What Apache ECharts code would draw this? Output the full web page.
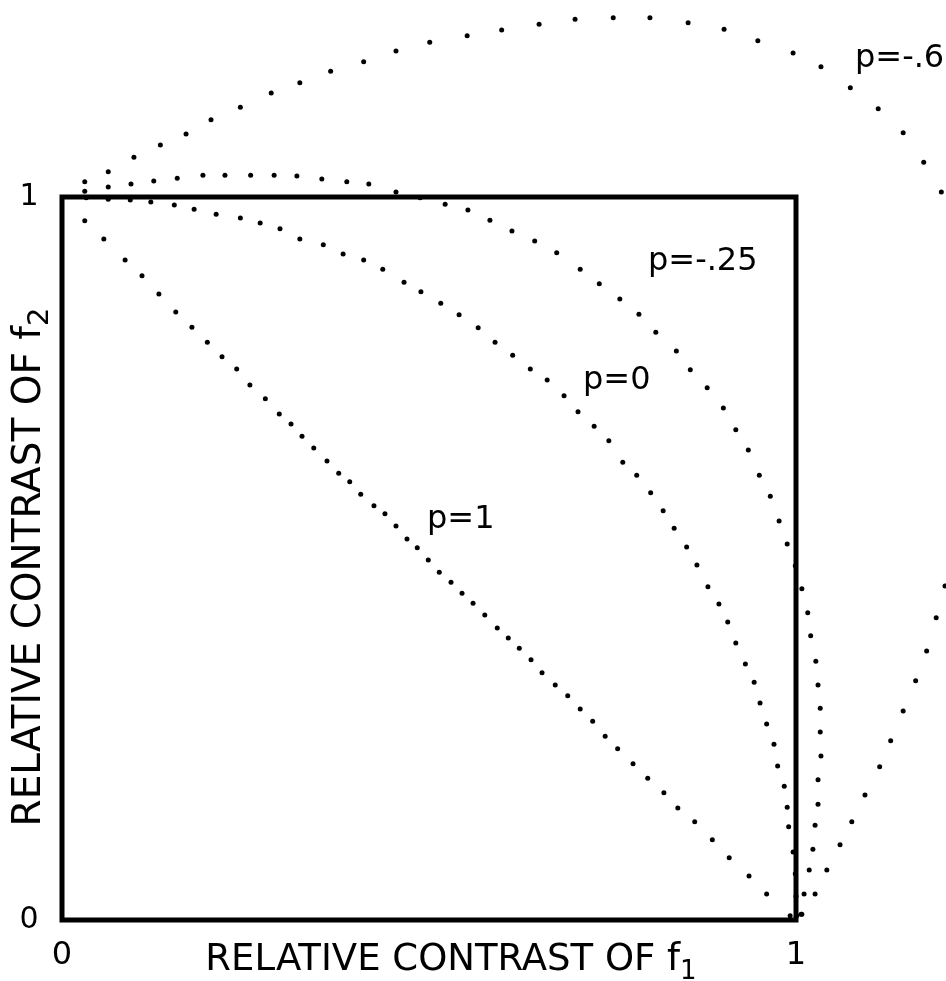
<!DOCTYPE html>
<html>
<head>
<meta charset="utf-8">
<script src="https://cdn.jsdelivr.net/npm/echarts@6/dist/echarts.min.js"></script>
<style>
html,body{margin:0;padding:0;background:#fff;}
#chart{width:946px;height:981px;}
</style>
</head>
<body>
<div id="chart"></div>
<script>
// Axis tick labels
var xTicks = ['0', '1'];
var yTicks = ['0', '1'];

// Dots: [relative contrast of f1, relative contrast of f2]
var curveP1 = [
  [0.031,0.967],[0.057,0.942],[0.086,0.913],[0.109,0.891],[0.132,0.866],[0.155,0.841],
  [0.177,0.820],[0.198,0.799],[0.218,0.779],[0.238,0.762],[0.256,0.740],[0.277,0.721],
  [0.296,0.700],[0.312,0.686],[0.327,0.669],[0.343,0.653],[0.361,0.635],[0.377,0.618],
  [0.392,0.606],[0.407,0.589],[0.425,0.573],[0.440,0.562],[0.455,0.545],[0.470,0.527],
  [0.484,0.515],[0.499,0.498],[0.514,0.481],[0.530,0.467],[0.545,0.452],[0.560,0.438],
  [0.576,0.422],[0.593,0.404],[0.608,0.390],[0.623,0.376],[0.639,0.360],[0.654,0.342],
  [0.672,0.325],[0.689,0.310],[0.706,0.292],[0.723,0.275],[0.740,0.254],[0.757,0.237],
  [0.778,0.216],[0.798,0.196],[0.820,0.176],[0.839,0.155],[0.862,0.136],[0.886,0.111],
  [0.909,0.086],[0.936,0.061],[0.960,0.036],[0.992,0.006]
];
var curveP0 = [
  [0.033,0.999],[0.063,0.997],[0.093,0.996],[0.121,0.993],[0.153,0.989],[0.180,0.983],
  [0.210,0.976],[0.243,0.971],[0.270,0.964],[0.297,0.956],[0.324,0.942],[0.356,0.934],
  [0.383,0.921],[0.411,0.913],[0.437,0.900],[0.466,0.882],[0.489,0.869],[0.516,0.853],
  [0.541,0.837],[0.567,0.819],[0.590,0.799],[0.614,0.781],[0.638,0.762],[0.661,0.747],
  [0.684,0.725],[0.703,0.703],[0.725,0.683],[0.745,0.663],[0.764,0.633],[0.783,0.615],
  [0.802,0.591],[0.819,0.566],[0.834,0.542],[0.851,0.516],[0.865,0.491],[0.880,0.461],
  [0.895,0.437],[0.907,0.412],[0.918,0.383],[0.931,0.354],[0.943,0.329],[0.951,0.300],
  [0.960,0.271],[0.970,0.243],[0.975,0.213],[0.984,0.185],[0.988,0.156],[0.990,0.129],
  [0.996,0.094],[0.999,0.064],[1.000,0.033],[1.001,0.006]
];
var curveM025 = [
  [0.031,1.008],[0.063,1.014],[0.094,1.018],[0.125,1.022],[0.157,1.026],[0.192,1.030],
  [0.222,1.030],[0.257,1.030],[0.289,1.030],[0.320,1.029],[0.354,1.025],[0.388,1.021],
  [0.418,1.018],[0.455,1.007],[0.488,0.999],[0.522,0.990],[0.553,0.982],[0.583,0.968],
  [0.613,0.953],[0.644,0.939],[0.674,0.923],[0.706,0.900],[0.732,0.880],[0.760,0.859],
  [0.786,0.838],[0.809,0.813],[0.837,0.787],[0.856,0.761],[0.879,0.736],[0.901,0.708],
  [0.918,0.678],[0.935,0.650],[0.950,0.615],[0.965,0.586],[0.977,0.552],[0.988,0.520],
  [0.999,0.490],[1.008,0.458],[1.016,0.425],[1.020,0.393],[1.027,0.358],[1.030,0.325],
  [1.033,0.293],[1.033,0.260],[1.034,0.227],[1.030,0.194],[1.030,0.160],[1.026,0.131],
  [1.023,0.098],[1.018,0.069],[1.011,0.036],[1.007,0.008]
];
var curveM06 = [
  [0.031,1.021],[0.063,1.035],[0.098,1.055],[0.134,1.072],[0.169,1.087],[0.203,1.107],
  [0.243,1.124],[0.285,1.144],[0.324,1.158],[0.366,1.174],[0.411,1.187],[0.455,1.202],
  [0.501,1.214],[0.552,1.223],[0.599,1.231],[0.650,1.239],[0.699,1.246],[0.751,1.248],
  [0.801,1.248],[0.853,1.241],[0.902,1.232],[0.948,1.216],[0.996,1.199],[1.034,1.180],
  [1.074,1.151],[1.112,1.122],[1.146,1.089],[1.174,1.048],[1.198,1.007],
  [1.203,0.462],[1.191,0.418],[1.178,0.372],[1.163,0.331],[1.146,0.289],[1.129,0.248],
  [1.114,0.212],[1.094,0.173],[1.076,0.136],[1.060,0.104],[1.042,0.069],[1.026,0.036],
  [1.008,0.008]
];

var FONT = 'DejaVu Sans';
var chart = echarts.init(document.getElementById('chart'), null, {renderer: 'canvas'});

function dotSeries(name, data) {
  return {
    name: name,
    type: 'scatter',
    data: data,
    symbol: 'circle',
    symbolSize: 5,
    clip: false,
    silent: true,
    itemStyle: {color: '#000', opacity: 1}
  };
}

function pLabel(text, x, y) {
  return {
    type: 'text', x: x, y: y, silent: true,
    style: {text: text, font: '32px ' + FONT, fill: '#000',
            align: 'left', verticalAlign: 'middle',
            textAlign: 'left', textVerticalAlign: 'middle'}
  };
}

var option = {
  backgroundColor: '#fff',
  animation: false,
  grid: {left: 62, right: 150, top: 197, bottom: 61, show: true,
         borderColor: '#000', borderWidth: 5, backgroundColor: 'transparent'},
  xAxis: {
    type: 'value', min: 0, max: 1, interval: 1,
    axisLine: {show: false}, axisTick: {show: false}, splitLine: {show: false},
    axisLabel: {margin: 20, fontSize: 32, fontFamily: FONT, color: '#000',
      formatter: function (v) { return xTicks[Math.round(v)]; }}
  },
  yAxis: {
    type: 'value', min: 0, max: 1, interval: 1,
    axisLine: {show: false}, axisTick: {show: false}, splitLine: {show: false},
    axisLabel: {margin: 33, align: 'center', fontSize: 30, fontFamily: FONT, color: '#000',
      formatter: function (v) { return yTicks[Math.round(v)]; }}
  },
  series: [
    dotSeries('p=1', curveP1),
    dotSeries('p=0', curveP0),
    dotSeries('p=-.25', curveM025),
    dotSeries('p=-.6', curveM06)
  ],
  graphic: [
    pLabel('p=-.6', 855, 59),
    pLabel('p=-.25', 648, 262),
    pLabel('p=0', 583, 381),
    pLabel('p=1', 427, 520),
    {
      type: 'text', x: 451, y: 960, silent: true,
      style: {
        text: '{a|RELATIVE CONTRAST OF f}{s|1}',
        fill: '#000', align: 'center', verticalAlign: 'middle',
        textAlign: 'center', textVerticalAlign: 'middle',
        rich: {
          a: {fontSize: 37, fontFamily: FONT, lineHeight: 50, color: '#000'},
          s: {fontSize: 26, fontFamily: FONT, verticalAlign: 'bottom', color: '#000'}
        }
      }
    },
    {
      type: 'text', x: 30, y: 567, rotation: Math.PI / 2, silent: true,
      style: {
        text: '{a|RELATIVE CONTRAST OF f}{s|2}',
        fill: '#000', align: 'center', verticalAlign: 'middle',
        textAlign: 'center', textVerticalAlign: 'middle',
        rich: {
          a: {fontSize: 39, fontFamily: FONT, lineHeight: 50, color: '#000'},
          s: {fontSize: 29, fontFamily: FONT, verticalAlign: 'bottom', color: '#000'}
        }
      }
    }
  ]
};
chart.setOption(option);
</script>
</body>
</html>
